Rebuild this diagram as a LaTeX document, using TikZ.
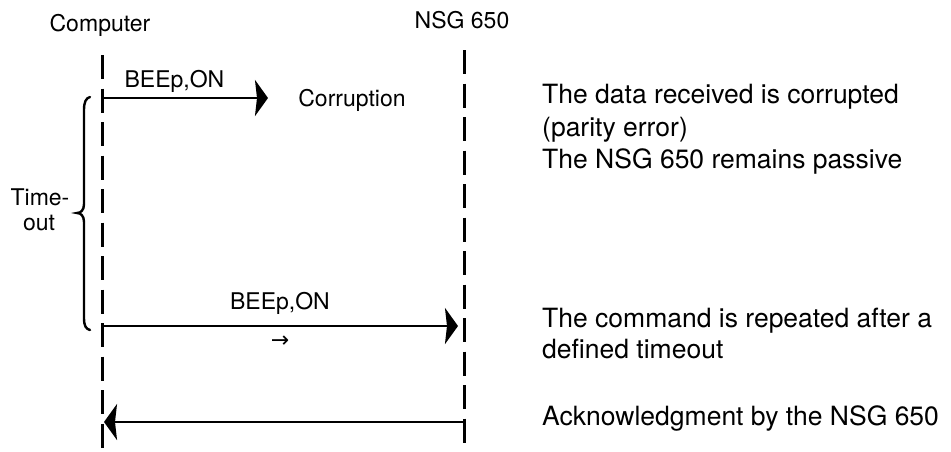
\documentclass[tikz,border=0pt]{standalone}
\usepackage{fontspec}
\setmainfont{TeX Gyre Heros}
\newfontfamily\symfont{DejaVu Sans}
\usetikzlibrary{arrows.meta}
\tikzset{
  lbl/.style={inner sep=0pt, anchor=base, font=\fontsize{23pt}{27pt}\selectfont},
  desc/.style={inner sep=0pt, anchor=base west, font=\fontsize{26.5pt}{32pt}\selectfont},
  lifeline/.style={line width=3pt, dash pattern=on 24pt off 9.5pt},
  msg/.style={line width=2.6pt, -{Stealth[length=13pt, width=36pt, inset=2pt]}},
  bracestyle/.style={line width=2.4pt, line cap=round}
}
\begin{document}
\begin{tikzpicture}[x=1pt, y=-1pt]
\useasboundingbox (0,0) rectangle (951,451);
% heads
\node[lbl] (comp) at (100,31) {Computer};
\node[lbl] (nsg) at (462,28) {NSG 650};
% lifeline coordinates
\coordinate (cTop) at (102,55);
\coordinate (cBot) at (102,451);
\coordinate (nTop) at (464,50);
\coordinate (nBot) at (464,451);
\draw[lifeline] (cTop) -- (cBot);
\draw[lifeline] (nTop) -- (nBot);
% message 1
\coordinate (m1s) at (102,98);
\coordinate (m1e) at (268,98);
\draw[msg] (m1s) -- (m1e);
\node[lbl] (b1) at (174.5,87) {BEEp,ON};
\node[lbl] (corr) at (352,106) {Corruption};
% message 2
\coordinate (m2s) at (102,326);
\coordinate (m2e) at (458,326);
\draw[msg] (m2s) -- (m2e);
\node[lbl] (b2) at (280,309) {BEEp,ON};
\node[inner sep=0pt, font=\symfont\fontsize{22pt}{26pt}\selectfont] (sm) at (280,342) {→};
% message 3
\coordinate (m3s) at (464,422);
\coordinate (m3e) at (104,422);
\draw[msg] (m3s) -- (m3e);
% brace
\draw[bracestyle] (90,97) .. controls (86,98) and (84,102) .. (84,110) -- (84,204)
  .. controls (84,210) and (81,213) .. (77,213)
  .. controls (81,213) and (84,216) .. (84,222) -- (84,318)
  .. controls (84,326) and (86,329) .. (90,330);
\node[lbl] (t1) at (40,205) {Time-};
\node[lbl] (t2) at (39,230) {out};
% descriptions
\node[desc] (d1) at (542,103) {The data received is corrupted};
\node[desc] (d2) at (542,136) {(parity error)};
\node[desc] (d3) at (542,168) {The NSG 650 remains passive};
\node[desc] (d4) at (542,327) {The command is repeated after a};
\node[desc] (d5) at (542,358) {defined timeout};
\node[desc] (d6) at (542,425) {Acknowledgment by the NSG 650};
\end{tikzpicture}
\end{document}
